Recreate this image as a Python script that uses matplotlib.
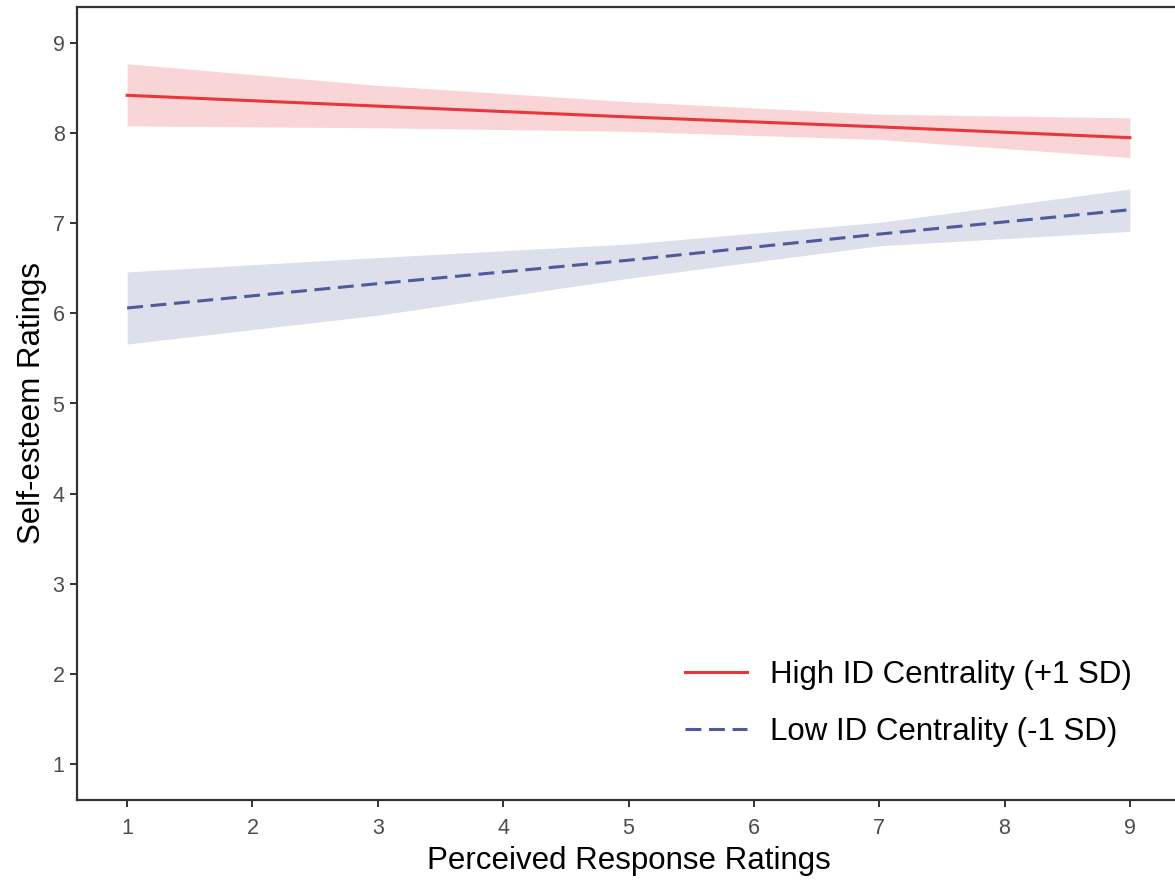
import matplotlib.pyplot as plt
import numpy as np

# values
x = [1, 3, 5, 7, 9]

high_fit = [8.42, 8.30, 8.18, 8.07, 7.95]
high_lo = [8.08, 8.06, 8.02, 7.93, 7.73]
high_hi = [8.77, 8.53, 8.35, 8.21, 8.17]

low_fit = [6.06, 6.33, 6.59, 6.88, 7.15]
low_lo = [5.66, 5.98, 6.39, 6.75, 6.91]
low_hi = [6.46, 6.62, 6.77, 7.01, 7.38]

labels = ['High ID Centrality (+1 SD)', 'Low ID Centrality (-1 SD)']
ticks = [1, 2, 3, 4, 5, 6, 7, 8, 9]

plt.rcParams['font.family'] = ['Liberation Sans', 'DejaVu Sans']

fig = plt.figure(figsize=(11.75, 8.8), dpi=100)
ax = fig.add_axes([77 / 1175, 80 / 880, 1103 / 1175, 793 / 880])

red = '#E8363B'
blue = '#4D5A9C'

ax.fill_between(x, high_lo, high_hi, color='#FAD5D7', linewidth=0, zorder=1)
ax.fill_between(x, low_lo, low_hi, color='#DDE0EB', linewidth=0, zorder=1)
ax.plot(x, high_fit, color=red, lw=2.2, label=labels[0], zorder=3)
ax.plot(x, low_fit, color=blue, lw=2.2, dashes=(5.2, 2.5), label=labels[1], zorder=3)

ax.set_xlim(0.6, 9.4)
ax.set_ylim(0.6, 9.4)
ax.set_xticks(ticks)
ax.set_yticks(ticks)

for s in ax.spines.values():
    s.set_color('#333333')
    s.set_linewidth(1.6)

ax.tick_params(axis='both', length=5, width=1.4, color='#333333',
               labelcolor='#4D4D4D', labelsize=15.5)
ax.tick_params(axis='x', pad=8)
ax.tick_params(axis='y', pad=4)

ax.set_xlabel('Perceived Response Ratings', fontsize=22.5, color='black', labelpad=5)
ax.set_ylabel('Self-esteem Ratings', fontsize=22.5, color='black', labelpad=4)

ax.legend(loc='center left', bbox_to_anchor=(0.551, 0.122), frameon=False,
          fontsize=22.5, handlelength=2.0, handletextpad=0.72, labelspacing=0.85,
          borderaxespad=0, borderpad=0)

fig.savefig('out.png', dpi=100)
